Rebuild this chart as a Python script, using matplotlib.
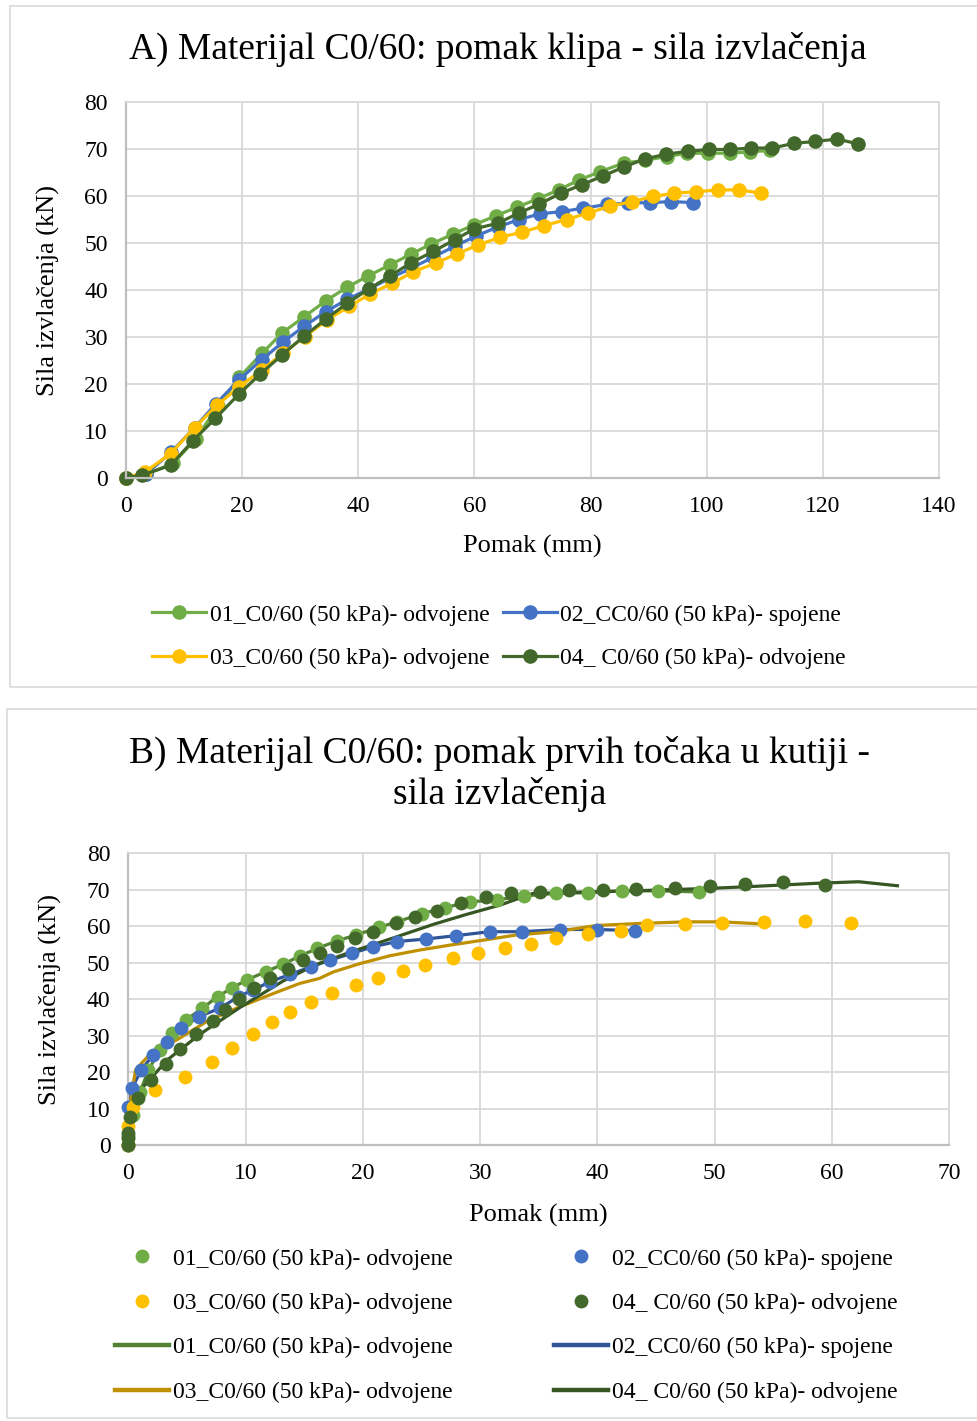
import matplotlib
matplotlib.use("Agg")
import matplotlib.pyplot as plt
from matplotlib.patches import Rectangle

plt.rcParams['font.family'] = ['Liberation Serif', 'DejaVu Serif']

# ---------------- data: panel A (pomak klipa) ----------------
a01_x = [0, 3.5, 8.1, 12.1, 15.8, 19.5, 23.4, 26.9, 30.7, 34.4, 38.1, 41.7, 45.4, 49.0, 52.6,
         56.3, 60.0, 63.7, 67.3, 70.9, 74.5, 78.0, 81.7, 85.7, 89.4, 93.1, 96.6, 100.3, 104.0,
         107.5, 110.9]
a01_y = [0, 0.8, 3.1, 8.4, 15.3, 21.4, 26.5, 30.9, 34.3, 37.7, 40.6, 43.0, 45.3, 47.6, 49.8,
         51.9, 53.9, 55.8, 57.6, 59.4, 61.3, 63.4, 65.2, 67.0, 67.6, 68.4, 69.1, 69.1, 69.1,
         69.4, 69.7]

a02_x = [0, 3.5, 7.8, 11.8, 15.5, 19.4, 23.4, 27.0, 30.7, 34.4, 38.1, 41.8, 45.4, 49.1, 52.9,
         56.6, 60.3, 64.0, 67.7, 71.3, 75.1, 78.7, 82.8, 86.5, 90.2, 93.9, 97.7]
a02_y = [0, 0.9, 5.5, 10.7, 15.8, 20.8, 25.2, 28.9, 32.3, 35.4, 38.0, 40.2, 42.5, 44.6, 47.0,
         49.3, 51.5, 53.4, 55.0, 56.2, 56.7, 57.4, 58.2, 58.5, 58.6, 58.8, 58.6]

a03_x = [0, 3.3, 7.7, 11.8, 15.7, 19.5, 23.4, 27.0, 30.8, 34.6, 38.4, 42.1, 45.8, 49.5, 53.3,
         57.0, 60.7, 64.4, 68.2, 72.0, 75.9, 79.6, 83.3, 87.1, 90.7, 94.4, 98.2, 101.9, 105.6,
         109.4]
a03_y = [0, 1.3, 5.2, 10.7, 15.5, 19.4, 23.0, 26.5, 30.1, 33.6, 36.5, 39.2, 41.4, 43.9, 45.7,
         47.7, 49.6, 51.2, 52.3, 53.7, 55.0, 56.4, 57.8, 58.8, 59.9, 60.6, 60.9, 61.3, 61.3,
         60.6]

a04_x = [0, 2.7, 7.7, 11.5, 15.4, 19.4, 23.1, 26.9, 30.7, 34.4, 38.1, 41.8, 45.5, 49.1, 52.9,
         56.6, 60.0, 64.0, 67.7, 71.2, 74.9, 78.5, 82.2, 85.8, 89.4, 93.0, 96.7, 100.4, 104.0,
         107.6, 111.3, 115.0, 118.6, 122.4, 126.1]
a04_y = [0, 0.6, 2.7, 7.9, 12.7, 17.8, 22.1, 26.2, 30.2, 33.8, 37.2, 40.2, 43.0, 45.8, 48.2,
         50.7, 53.0, 54.2, 56.4, 58.3, 60.6, 62.4, 64.3, 66.2, 67.9, 68.9, 69.5, 69.9, 69.9,
         70.2, 70.2, 71.2, 71.6, 72.1, 71.1]

# ---------------- data: panel B (pomak prvih tocaka) ----------------
b01_x = [0, 0, 0.4, 1.0, 1.7, 2.7, 3.7, 4.9, 6.3, 7.6, 8.8, 10.1, 11.7, 13.2, 14.6, 16.1, 17.8,
         19.4, 21.4, 22.9, 25.0, 27.0, 29.1, 31.4, 33.7, 36.5, 39.2, 42.1, 45.2, 48.7]
b01_y = [0, 2.5, 8.2, 14.6, 20.6, 26.1, 30.6, 34.3, 37.5, 40.7, 43.0, 45.3, 47.5, 49.6, 51.8,
         53.9, 56.0, 57.6, 59.7, 61.2, 63.4, 65.1, 66.7, 67.2, 68.3, 69.0, 69.2, 69.7, 69.7, 69.4]

b02_x = [0, 0, 0.3, 1.1, 2.1, 3.3, 4.5, 6.0, 7.8, 9.4, 10.6, 12.1, 13.8, 15.6, 17.2, 19.1,
         20.9, 22.9, 25.4, 27.9, 30.8, 33.6, 36.8, 40.0, 43.2]
b02_y = [0, 10.4, 15.6, 20.6, 24.7, 28.3, 32.0, 35.2, 37.5, 40.7, 42.5, 44.8, 46.8, 48.9, 50.7,
         52.6, 54.4, 55.8, 56.5, 57.4, 58.5, 58.5, 59.1, 59.1, 58.8]

b03_x = [0, 0, 0.4, 2.3, 4.8, 7.1, 8.8, 10.6, 12.2, 13.8, 15.6, 17.4, 19.4, 21.3, 23.4, 25.3,
         27.7, 29.8, 32.1, 34.3, 36.5, 39.2, 42.0, 44.2, 47.5, 50.6, 54.2, 57.7, 61.6]
b03_y = [0, 5.2, 10.5, 15.1, 18.7, 22.8, 26.5, 30.4, 33.8, 36.6, 39.1, 41.6, 43.9, 45.7, 47.7,
         49.5, 51.4, 52.7, 53.9, 55.1, 56.7, 57.8, 58.8, 60.2, 60.6, 60.8, 61.2, 61.4, 60.8]

b04_x = [0, 0, 0, 0.1, 0.8, 1.9, 3.2, 4.4, 5.8, 7.2, 8.2, 9.4, 10.7, 12.1, 13.6, 14.9, 16.3,
         17.8, 19.3, 20.9, 22.8, 24.4, 26.3, 28.4, 30.5, 32.6, 35.1, 37.6, 40.5, 43.3, 46.6,
         49.6, 52.6, 55.8, 59.4]
b04_y = [0, 1.8, 3.2, 7.8, 12.8, 17.8, 22.2, 26.2, 30.4, 34.1, 37.0, 40.0, 43.0, 45.9, 48.2,
         50.7, 52.7, 54.6, 56.7, 58.5, 60.8, 62.4, 64.3, 66.3, 67.9, 69.0, 69.5, 69.9, 69.9,
         70.1, 70.4, 71.1, 71.7, 72.2, 71.3]

# trend lines of panel B
b03_lx = [0, 0.1, 0.6, 2.0, 4.1, 6.9, 9.5, 12.4, 14.6, 16.3, 17.5, 19.8, 22.3, 24.9, 27.4,
          30.3, 33.1, 36.5, 39.9, 43.9, 47.6, 50.6, 54.2]
b03_ly = [0, 10.5, 20.6, 25.5, 28.8, 34.3, 37.9, 41.6, 44.3, 45.7, 47.5, 49.8, 51.9, 53.5,
          54.8, 56.2, 57.6, 58.5, 60.2, 60.8, 61.2, 61.2, 60.6]
b04_lx = [0, 0.3, 1.0, 3.3, 6.1, 9.5, 13.2, 16.0, 19.2, 22.6, 26.0, 28.9, 31.7, 34.5, 43.0,
          49.8, 53.2, 58.9, 62.3, 65.6]
b04_ly = [0, 8.0, 15.0, 23.3, 30.4, 37.7, 45.0, 49.5, 53.2, 56.8, 60.5, 63.3, 65.8, 69.0,
          69.7, 70.4, 70.9, 71.8, 72.2, 71.1]

labels = ["01_C0/60 (50 kPa)- odvojene", "02_CC0/60 (50 kPa)- spojene",
          "03_C0/60 (50 kPa)- odvojene", "04_ C0/60 (50 kPa)- odvojene"]
dot_colors = ["#70AD47", "#4472C4", "#FFC000", "#43682B"]
line_colors = ["#548235", "#2F5597", "#BF9000", "#375623"]

W, H = 978, 1421
fig = plt.figure(figsize=(W / 100, H / 100), dpi=100)

# chart frames
fig.patches.append(Rectangle((9.5 / W, 1 - 687 / H), 1.0, (687 - 6) / H, transform=fig.transFigure,
                             fill=False, ec="#D9D9D9", lw=1.2))
fig.patches.append(Rectangle((7.5 / W, 1 - 1418 / H), 1.0, (1418 - 709) / H, transform=fig.transFigure,
                             fill=False, ec="#D9D9D9", lw=1.2))


def style_axes(ax, xmax, xstep):
    ax.set_ylim(0, 80)
    ax.set_xlim(0, xmax)
    ax.set_xticks(range(0, xmax + 1, xstep))
    ax.set_yticks(range(0, 81, 10))
    ax.grid(True, color="#D9D9D9", lw=1.3)
    ax.set_axisbelow(True)
    for s in ["top", "right"]:
        ax.spines[s].set_color("#D9D9D9")
        ax.spines[s].set_linewidth(1.3)
    for s in ["left", "bottom"]:
        ax.spines[s].set_color("#BFBFBF")
        ax.spines[s].set_linewidth(1.6)
    ax.tick_params(length=0, labelsize=17, pad=13)
    ax.set_xlabel("Pomak (mm)", fontsize=19)
    ax.set_ylabel("Sila izvlačenja (kN)", fontsize=19)


# ---------------- panel A ----------------
axA = fig.add_axes([126 / W, 1 - 478 / H, 813 / W, 376 / H])
style_axes(axA, 140, 20)
handlesA = []
for xs, ys, c, lab in zip([a01_x, a02_x, a03_x, a04_x], [a01_y, a02_y, a03_y, a04_y], dot_colors, labels):
    h, = axA.plot(xs, ys, color=c, lw=2.3, marker="o", ms=10.5, mec=c, mew=0, label=lab,
                  clip_on=False)
    handlesA.append(h)
axA.xaxis.set_label_coords(0.5, -0.152)
axA.yaxis.set_label_coords(-0.081, 0.5)
axA.legend([handlesA[0], handlesA[2], handlesA[1], handlesA[3]],
           [labels[0], labels[2], labels[1], labels[3]],
           ncol=2, loc="center", bbox_to_anchor=(499 / W, 1 - 636.5 / H),
           bbox_transform=fig.transFigure, frameon=False, fontsize=17,
           handlelength=2.3, handletextpad=0.15, columnspacing=0.55, labelspacing=0.93)
fig.text(498 / W, 1 - 49 / H, "A) Materijal C0/60: pomak klipa - sila izvlačenja",
         ha="center", va="center", fontsize=27)

# ---------------- panel B ----------------
axB = fig.add_axes([128.5 / W, 1 - 1145 / H, 820.5 / W, 291.7 / H])
style_axes(axB, 70, 10)
line_data = [(b01_x, b01_y), (b02_x, b02_y), (b03_lx, b03_ly), (b04_lx, b04_ly)]
dot_data = [(b01_x, b01_y), (b02_x, b02_y), (b03_x, b03_y), (b04_x, b04_y)]
line_handles = []
dot_handles = []
for (xs, ys), c in zip(line_data, line_colors):
    h, = axB.plot(xs, ys, color=c, lw=2.3, zorder=2, clip_on=False)
    line_handles.append(h)
for (xs, ys), c in zip(dot_data, dot_colors):
    h, = axB.plot(xs, ys, ls="none", marker="o", ms=10, color=c, mew=0, zorder=3, clip_on=False)
    dot_handles.append(h)
axB.xaxis.set_label_coords(0.5, -0.202)
axB.yaxis.set_label_coords(-0.081, 0.5)
hB = [dot_handles[0], dot_handles[2], line_handles[0], line_handles[2],
      dot_handles[1], dot_handles[3], line_handles[1], line_handles[3]]
lB = [labels[0], labels[2], labels[0], labels[2], labels[1], labels[3], labels[1], labels[3]]
legB = axB.legend(hB, lB, ncol=2, loc="center", bbox_to_anchor=(506 / W, 1 - 1325.5 / H),
                  bbox_transform=fig.transFigure, frameon=False, fontsize=17,
                  handlelength=2.3, handletextpad=0.15, columnspacing=4.3, labelspacing=0.97)
for ln in legB.get_lines():
    ln.set_linewidth(3.2)
fig.text(500 / W, 1 - 774 / H, "B) Materijal C0/60: pomak prvih točaka u kutiji -\nsila izvlačenja",
         ha="center", va="center", fontsize=27, linespacing=1.2)

fig.savefig("out.png", dpi=100, facecolor="white")
